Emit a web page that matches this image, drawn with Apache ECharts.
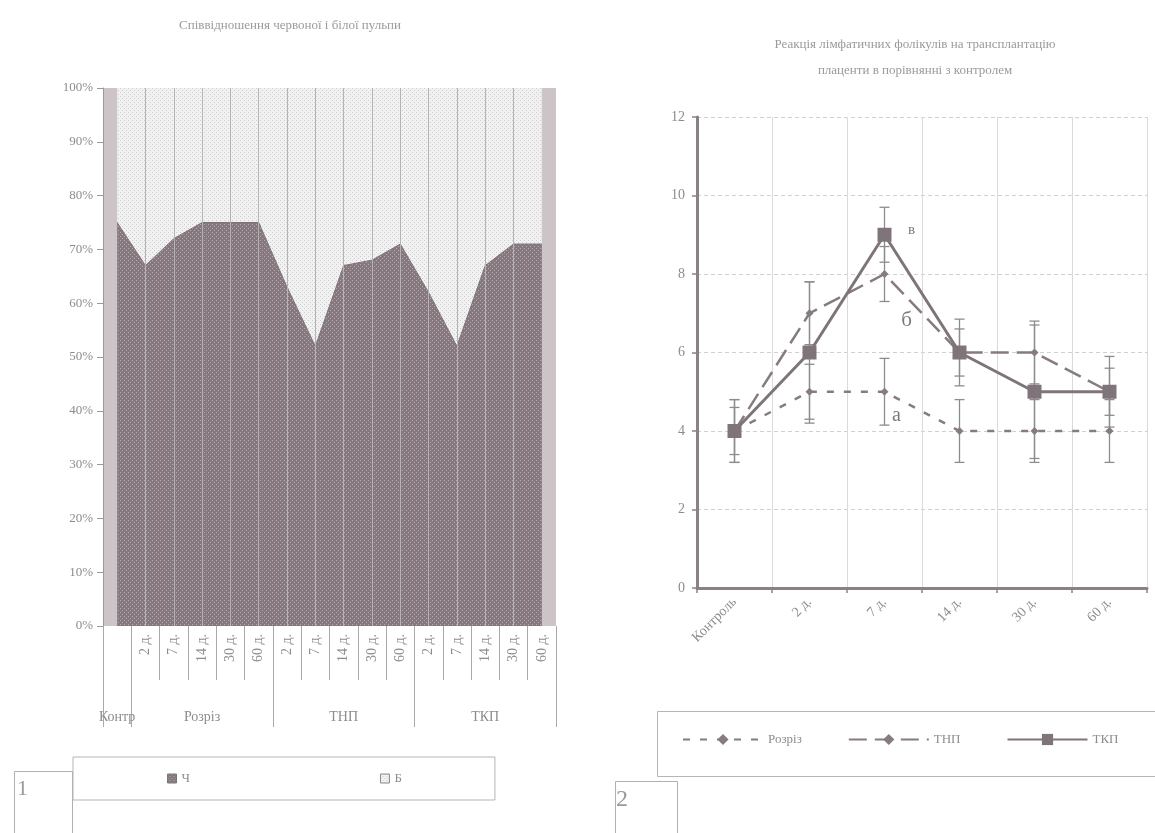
<!DOCTYPE html>
<html>
<head>
<meta charset="utf-8">
<script src="https://cdn.jsdelivr.net/npm/echarts@6/dist/echarts.min.js"></script>
<style>
  html, body { margin: 0; padding: 0; background: #ffffff; }
  #chart { width: 1155px; height: 833px; }
</style>
</head>
<body>
<div id="chart"></div>
<script>
// ---- Left panel: share of red (Ч) and white (Б) pulp, 100% stacked areas ----
const groups = ['Контр', 'Розріз', 'ТНП', 'ТКП'];
const days = ['2 д.', '7 д.', '14 д.', '30 д.', '60 д.'];
const redPulp = [75, 67, 72, 75, 75, 75, 63, 52, 67, 68, 71, 62, 52, 67, 71, 71];
const whitePulp = [25, 33, 28, 25, 25, 25, 37, 48, 33, 32, 29, 38, 48, 33, 29, 29];
const pctTicks = [0, 10, 20, 30, 40, 50, 60, 70, 80, 90, 100];

// ---- Right panel: lymphatic follicles after placenta transplantation ----
const periods = ['Контроль', '2 д.', '7 д.', '14 д.', '30 д.', '60 д.'];
const cutVals = [4, 5, 5, 4, 4, 4];
const cutErr = [0.8, 0.7, 0.85, 0.8, 0.8, 0.8];
const tnpVals = [4, 7, 8, 6, 6, 5];
const tnpErr = [0.6, 0.8, 0.7, 0.6, 0.8, 0.6];
const tkpVals = [4, 6, 9, 6, 5, 5];
const tkpErr = [0.8, 1.8, 0.7, 0.85, 1.7, 0.9];
const countTicks = [0, 2, 4, 6, 8, 10, 12];

// category rows of the left x axis (day labels, then group captions)
const dayRow = [''];
const groupRow = [groups[0]];
for (let g = 1; g < groups.length; g++) {
  for (let d = 0; d < days.length; d++) {
    dayRow.push(days[d]);
    groupRow.push(d === 2 ? groups[g] : '');
  }
}
// group borders sit at the start of these categories
const groupStarts = [0];
for (let g = 1; g < groups.length; g++) groupStarts.push(1 + (g - 1) * days.length);

const FONT = 'Liberation Serif';
const TXT = '#8c8c8c';
const AXIS = '#9a9a9a';
const INK = '#7f747a';

function dotPattern(bg, dot) {
  const c = document.createElement('canvas');
  c.width = 4; c.height = 4;
  const g = c.getContext('2d');
  g.fillStyle = bg; g.fillRect(0, 0, 4, 4);
  g.fillStyle = dot; g.fillRect(0, 0, 1, 1); g.fillRect(2, 2, 1, 1);
  return { image: c, repeat: 'repeat' };
}
const darkFill = dotPattern('#85797f', '#b5abb0');
const lightFill = dotPattern('#f1f1f1', '#cdcdcd');

function errorBars(name, vals, errs) {
  return {
    type: 'custom', name: name, xAxisIndex: 2, yAxisIndex: 1, z: 3, silent: true,
    data: vals.map((v, i) => [i, v, errs[i]]),
    encode: { x: 0, y: 1 },
    renderItem: function (params, api) {
      const i = api.value(0), v = api.value(1), e = api.value(2);
      const hi = api.coord([i, v + e]);
      const lo = api.coord([i, v - e]);
      const w = 5;
      const st = { stroke: '#8c8c8c', lineWidth: 1.3 };
      return {
        type: 'group',
        children: [
          { type: 'line', shape: { x1: hi[0], y1: hi[1], x2: lo[0], y2: lo[1] }, style: st },
          { type: 'line', shape: { x1: hi[0] - w, y1: hi[1], x2: hi[0] + w, y2: hi[1] }, style: st },
          { type: 'line', shape: { x1: lo[0] - w, y1: lo[1], x2: lo[0] + w, y2: lo[1] }, style: st }
        ]
      };
    }
  };
}

function tagged(vals, idx, text, offset, size) {
  return vals.map((v, i) => i === idx ? {
    value: v,
    label: {
      show: true, formatter: text, position: 'inside', offset: offset,
      fontFamily: FONT, fontSize: size, color: '#7a7a7a'
    }
  } : v);
}

const chart = echarts.init(document.getElementById('chart'), null, { renderer: 'canvas' });

chart.setOption({
  backgroundColor: '#ffffff',
  animation: false,
  title: [
    {
      text: 'Співвідношення червоної і білої пульпи',
      left: 285, top: 14, textAlign: 'center',
      textStyle: { fontFamily: FONT, fontSize: 13, fontWeight: 'normal', color: '#9a9a9a' }
    },
    {
      text: 'Реакція лімфатичних фолікулів на трансплантацію\nплаценти в порівнянні з контролем',
      left: 910, top: 27, textAlign: 'center',
      textStyle: { fontFamily: FONT, fontSize: 13, fontWeight: 'normal', color: '#9a9a9a', lineHeight: 26 }
    }
  ],
  legend: [
    {
      data: [
        { name: 'Ч', itemStyle: { color: darkFill, borderColor: '#777', borderWidth: 1 } },
        { name: 'Б', itemStyle: { color: lightFill, borderColor: '#888', borderWidth: 1 } }
      ],
      left: 73, top: 757, orient: 'horizontal',
      icon: 'rect', itemWidth: 9, itemHeight: 9, itemGap: 190,
      padding: [15, 93, 15, 94],
      borderColor: '#b5b5b5', borderWidth: 1,
      textStyle: { fontFamily: FONT, fontSize: 13, color: TXT }
    },
    {
      data: ['Розріз', 'ТНП', 'ТКП'],
      left: 682, top: 733, orient: 'horizontal',
      itemWidth: 80, itemHeight: 14, itemGap: 46, padding: 0,
      textStyle: { fontFamily: FONT, fontSize: 13, color: TXT }
    }
  ],
  grid: [
    { left: 103, top: 88, width: 453, height: 538, show: true, backgroundColor: '#cdc4c8', borderWidth: 0 },
    { left: 697, top: 117, width: 450, height: 471 }
  ],
  xAxis: [
    {
      gridIndex: 0, type: 'category', data: dayRow, boundaryGap: true,
      axisLine: { show: false },
      axisTick: { show: true, interval: 0, length: 54, lineStyle: { color: '#aaaaaa' } },
      axisLabel: { interval: 0, rotate: 90, margin: 8, fontFamily: FONT, fontSize: 14, color: TXT }
    },
    {
      gridIndex: 0, type: 'category', data: groupRow, boundaryGap: true, position: 'bottom', offset: 54,
      axisLine: { show: false },
      axisTick: {
        show: true, length: 47, lineStyle: { color: '#aaaaaa' },
        interval: function (index) { return groupStarts.indexOf(index) >= 0; }
      },
      axisLabel: { interval: 0, margin: 30, fontFamily: FONT, fontSize: 14, color: TXT }
    },
    {
      gridIndex: 1, type: 'category', data: periods, boundaryGap: true,
      axisLine: { show: true, lineStyle: { color: '#8a8186', width: 3 } },
      axisTick: { show: true, length: 5, lineStyle: { color: '#8a8186', width: 1.5 } },
      splitLine: { show: true, lineStyle: { color: '#dadada', width: 1 } },
      axisLabel: { interval: 0, rotate: 45, margin: 12, fontFamily: FONT, fontSize: 14, color: TXT }
    }
  ],
  yAxis: [
    {
      gridIndex: 0, type: 'value', min: pctTicks[0], max: pctTicks[pctTicks.length - 1], interval: 10,
      axisLine: { show: true, lineStyle: { color: AXIS } },
      axisTick: { show: true, length: 6, lineStyle: { color: AXIS } },
      splitLine: { show: false },
      axisLabel: { formatter: '{value}%', margin: 10, fontFamily: FONT, fontSize: 13, color: TXT }
    },
    {
      gridIndex: 1, type: 'value', min: countTicks[0], max: countTicks[countTicks.length - 1], interval: 2,
      axisLine: { show: true, lineStyle: { color: '#8a8186', width: 3 } },
      axisTick: { show: true, length: 5, lineStyle: { color: '#8a8186', width: 1.5 } },
      splitLine: { show: true, lineStyle: { color: '#d0d0d0', type: [4, 3] } },
      axisLabel: { margin: 12, fontFamily: FONT, fontSize: 14, color: TXT }
    }
  ],
  series: [
    {
      name: 'Ч', type: 'line', xAxisIndex: 0, yAxisIndex: 0, stack: 'pulp',
      data: redPulp, symbol: 'none',
      lineStyle: { width: 1, color: '#7d7278' },
      itemStyle: { color: darkFill },
      areaStyle: { color: darkFill, opacity: 1 }
    },
    {
      name: 'Б', type: 'line', xAxisIndex: 0, yAxisIndex: 0, stack: 'pulp',
      data: whitePulp, symbol: 'none',
      lineStyle: { width: 0 },
      itemStyle: { color: lightFill },
      areaStyle: { color: lightFill, opacity: 1 },
      markLine: {
        silent: true, symbol: 'none', label: { show: false },
        lineStyle: { color: '#b4b4b4', width: 1, type: 'solid' },
        data: redPulp.slice(1, redPulp.length - 1).map((v, i) => ({ xAxis: i + 1 }))
      }
    },
    errorBars('Розріз (m)', cutVals, cutErr),
    errorBars('ТНП (m)', tnpVals, tnpErr),
    errorBars('ТКП (m)', tkpVals, tkpErr),
    {
      name: 'Розріз', type: 'line', xAxisIndex: 2, yAxisIndex: 1, z: 4,
      data: tagged(cutVals, 2, 'а', [12, 24], 20),
      symbol: 'diamond', symbolSize: 8,
      lineStyle: { color: '#857b81', width: 2.5, type: [7, 10] },
      itemStyle: { color: '#857b81' }
    },
    {
      name: 'ТНП', type: 'line', xAxisIndex: 2, yAxisIndex: 1, z: 4,
      data: tagged(tnpVals, 2, 'б', [22, 46], 21),
      symbol: 'diamond', symbolSize: 8,
      lineStyle: { color: '#857b81', width: 2.5, type: [18, 8] },
      itemStyle: { color: '#857b81' }
    },
    {
      name: 'ТКП', type: 'line', xAxisIndex: 2, yAxisIndex: 1, z: 5,
      data: tagged(tkpVals, 2, 'в', [27, -5], 15),
      symbol: 'rect', symbolSize: 14,
      lineStyle: { color: INK, width: 3 },
      itemStyle: { color: INK }
    }
  ],
  graphic: [
    {
      type: 'rect', left: 655, top: 709, shape: { width: 520, height: 65 },
      style: { fill: 'none', stroke: '#b5b5b5', lineWidth: 1 }
    },
    {
      type: 'rect', left: 12, top: 769, shape: { width: 58, height: 80 },
      style: { fill: 'none', stroke: '#b0b0b0', lineWidth: 1 }
    },
    {
      type: 'text', left: 17, top: 778,
      style: { text: '1', fontFamily: FONT, fontSize: 22, fill: '#9a9a9a' }
    },
    {
      type: 'rect', left: 613, top: 779, shape: { width: 62, height: 70 },
      style: { fill: 'none', stroke: '#b0b0b0', lineWidth: 1 }
    },
    {
      type: 'text', left: 616, top: 788,
      style: { text: '2', fontFamily: FONT, fontSize: 24, fill: '#9a9a9a' }
    }
  ]
});
</script>
</body>
</html>
